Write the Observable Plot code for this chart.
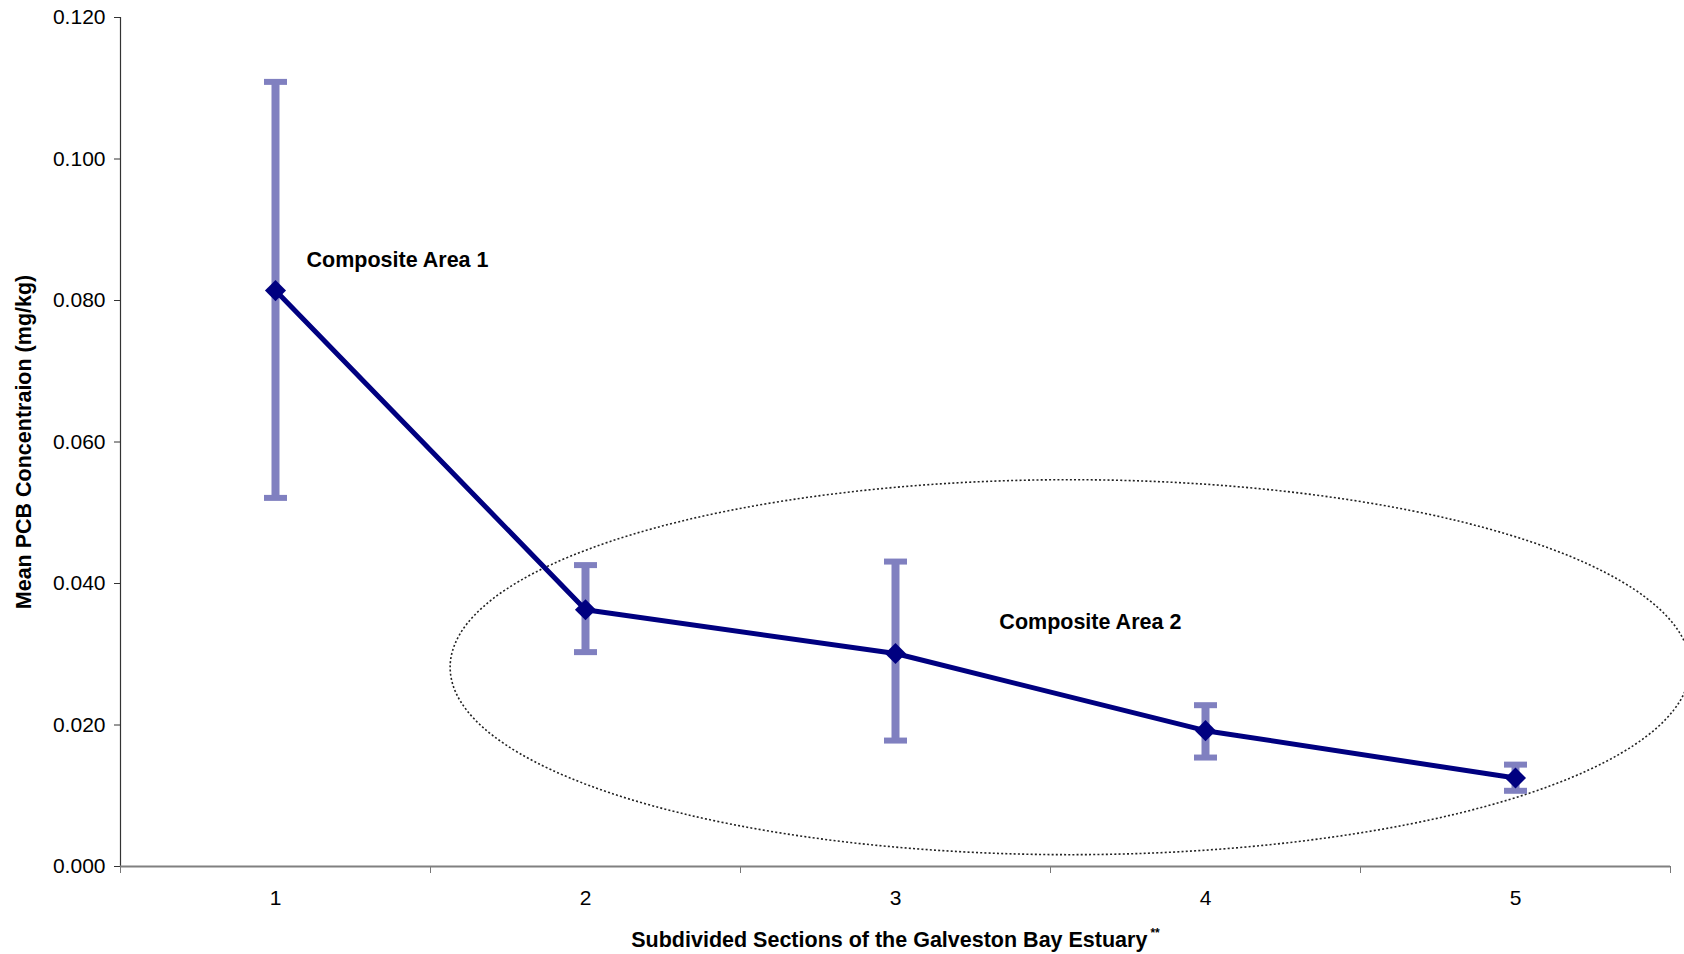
<!DOCTYPE html>
<html>
<head>
<meta charset="utf-8">
<script src="https://cdn.jsdelivr.net/npm/d3@7"></script>
<script src="https://cdn.jsdelivr.net/npm/@observablehq/plot@0.6"></script>
<style>
  html, body { margin: 0; padding: 0; background: #fff; }
  #chart svg { display: block; }
</style>
</head>
<body>
<div id="chart"></div>
<script>
// ---- Data ----
const sections = [1, 2, 3, 4, 5];
const meanPCB  = [0.0814, 0.0363, 0.0301, 0.0192, 0.0125];
const errLow   = [0.0521, 0.0303, 0.0178, 0.0154, 0.0107];
const errHigh  = [0.1109, 0.0426, 0.0431, 0.0228, 0.0144];

const yTicks = [0, 0.02, 0.04, 0.06, 0.08, 0.10, 0.12];
const xBoundaries = [0.5, 1.5, 2.5, 3.5, 4.5, 5.5];

const annotationLabels = ["Composite Area 1", "Composite Area 2"];
const annotationX = [1.10, 3.335];
const annotationY = [0.0857, 0.0346];

// ellipse enclosing composite area 2, in data units: center (x, y), radii (x, y)
const ellipseCenter = [3.565, 0.0281];
const ellipseRadii  = [2.0, 0.0265];

const yTitle = "Mean PCB Concentraion (mg/kg)";
const xTitle = "Subdivided Sections of the Galveston Bay Estuary";
const xTitleNote = "**";

const rows = sections.map((s, i) => ({section: s, mean: meanPCB[i], low: errLow[i], high: errHigh[i]}));

const navy = "#000080";
const font = "'Liberation Sans', Arial, Helvetica, sans-serif";

const capSymbol = {
  draw(context, size) {
    context.rect(-11.5, -3, 23, 6);
  }
};

const ellipseMark = (index, scales) => {
  const [cx, cy] = ellipseCenter;
  const [rx, ry] = ellipseRadii;
  const px = scales.x(cx), py = scales.y(cy);
  const prx = Math.abs(scales.x(cx + rx) - px);
  const pry = Math.abs(scales.y(cy + ry) - py);
  const el = d3.create("svg:ellipse")
    .attr("cx", px).attr("cy", py).attr("rx", prx).attr("ry", pry)
    .attr("fill", "none").attr("stroke", "#222")
    .attr("stroke-width", 1.6).attr("stroke-dasharray", "2,2.2");
  return el.node();
};

const svg = Plot.plot({
  width: 1684,
  height: 954,
  marginLeft: 120,
  marginRight: 14,
  marginTop: 17,
  marginBottom: 88,
  style: {fontFamily: font, fontSize: "21px", color: "#000", background: "#fff", overflow: "visible"},
  x: {domain: [0.5, 5.5], axis: null},
  y: {domain: [0, 0.12], axis: null},
  marks: [
    ellipseMark,
    // axes
    Plot.axisY({ticks: yTicks, tickFormat: d3.format(".3f"), tickSize: 6, tickPadding: 9, label: null, stroke: "#333"}),
    Plot.ruleX([0.5], {stroke: "#333", strokeWidth: 1.2}),
    Plot.axisX({ticks: xBoundaries, tickSize: 7, tickFormat: () => "", label: null, stroke: "#777"}),
    Plot.axisX({ticks: sections, tickSize: 0, tickPadding: 24, tickFormat: d3.format("d"), label: null}),
    Plot.ruleY([0], {stroke: "#808080", strokeWidth: 2}),
    // error bars
    Plot.ruleX(rows, {x: "section", y1: "low", y2: "high", stroke: "url(#dotpat)", strokeWidth: 8}),
    Plot.dot(rows, {x: "section", y: "low", symbol: capSymbol, r: 5, fill: "url(#dotpat)", stroke: "none"}),
    Plot.dot(rows, {x: "section", y: "high", symbol: capSymbol, r: 5, fill: "url(#dotpat)", stroke: "none"}),
    // series
    Plot.line(rows, {x: "section", y: "mean", stroke: navy, strokeWidth: 5}),
    Plot.dot(rows, {x: "section", y: "mean", symbol: "diamond2", r: 9.5, fill: navy, stroke: "none"}),
    // annotations
    Plot.text(annotationLabels, {x: annotationX, y: annotationY, text: d => d, textAnchor: "start", fontWeight: "bold", fontSize: 21.5, fill: "#000"}),
    // titles
    Plot.text([yTitle], {frameAnchor: "left", rotate: -90, dx: -96, text: d => d, textAnchor: "middle", fontWeight: "bold", fontSize: 21.5, lineAnchor: "middle", fill: "#000"}),
    Plot.text([xTitle], {frameAnchor: "bottom", dy: 74, text: d => d, textAnchor: "middle", fontWeight: "bold", fontSize: 21.5, lineAnchor: "middle", fill: "#000"})
  ]
});

// pattern for the error bars (dotted fill)
const defs = document.createElementNS("http://www.w3.org/2000/svg", "defs");
defs.innerHTML = `<pattern id="dotpat" width="2" height="2" patternUnits="userSpaceOnUse">
  <rect width="2" height="2" fill="#ffffff"/>
  <rect x="0" y="0" width="1" height="1" fill="${navy}"/>
  <rect x="1" y="1" width="1" height="1" fill="${navy}"/>
</pattern>`;
svg.insertBefore(defs, svg.firstChild);

// superscript note on the x title
svg.querySelectorAll("text").forEach(t => {
  if (t.textContent === xTitle) {
    const ts = document.createElementNS("http://www.w3.org/2000/svg", "tspan");
    ts.setAttribute("font-size", "12");
    ts.setAttribute("dy", "-0.9em");
    ts.setAttribute("dx", "3");
    ts.textContent = xTitleNote;
    t.appendChild(ts);
  }
});

document.getElementById("chart").appendChild(svg);
</script>
</body>
</html>
